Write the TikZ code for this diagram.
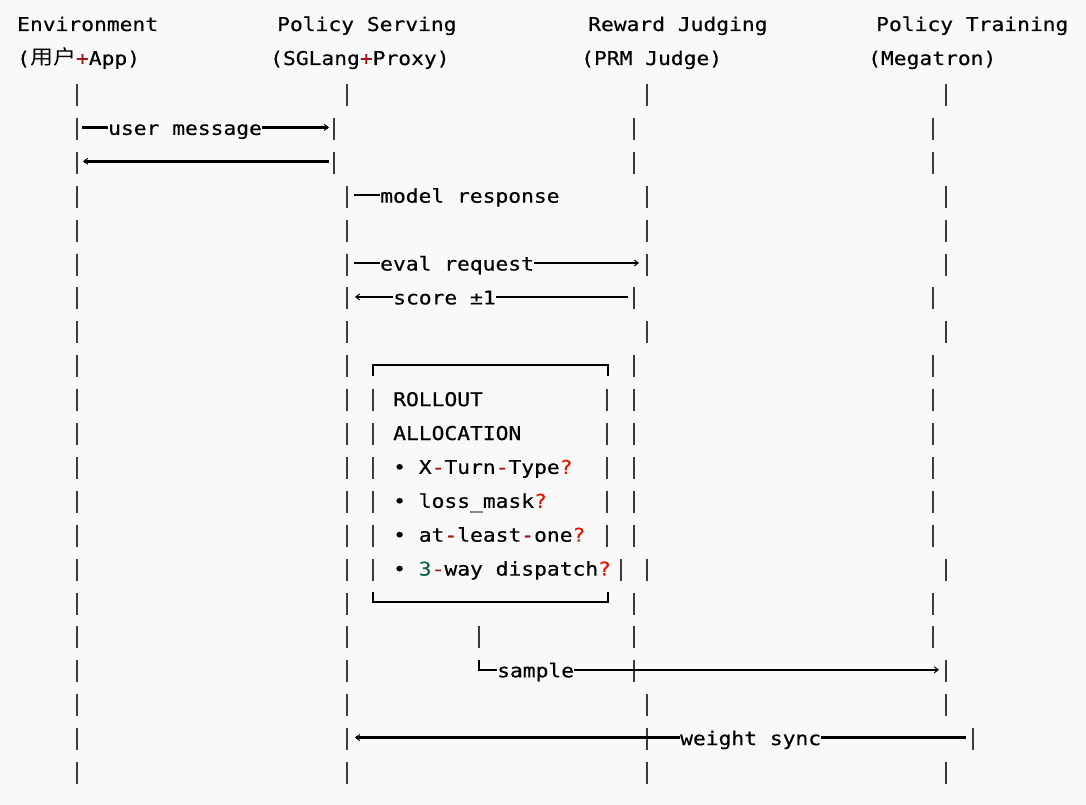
\documentclass[tikz,border=0pt]{standalone}
\usepackage{fontspec}
\usetikzlibrary{arrows.meta}
\newfontfamily\monofont[FakeStretch=1.12,FakeBold=0.4]{DejaVu Sans Mono}
\newfontfamily\cjkfont[FakeStretch=1.15]{Noto Sans CJK SC}
\definecolor{bgcol}{HTML}{F9F9F9}
\definecolor{barcol}{HTML}{3C3C3C}
\definecolor{opred}{HTML}{A31515}
\definecolor{qred}{HTML}{E51400}
\definecolor{numgreen}{HTML}{116644}
\newcommand{\rowy}[1]{95+33.9*#1}
\newcommand{\lifebar}[2]{ % Takes x position and row number as arguments
    \draw[lifeline] (#1,{\rowy{#2}-11}) -- (#1,{\rowy{#2}+11});
}
\newcommand{\op}[1]{\textcolor{opred}{#1}}
\newcommand{\qm}{\textcolor{qred}{?}}

\begin{document}
\begin{tikzpicture}[x=1pt, y=-1pt,
    txt/.style={font=\monofont\fontsize{19}{22}\selectfont, inner sep=0pt, anchor=base west},
    lifeline/.style={draw=barcol, line width=1.8pt},
    rule/.style={draw=black, line width=2.6pt},
    boxline/.style={draw=black, line width=2.2pt},
    >={Straight Barb[length=4pt,width=6pt,line width=1pt]}]
                \fill[bgcol] (0,0) rectangle (1086,805);
                \useasboundingbox (0,0) rectangle (1086,805);

                % Headers
                \node[txt] (envtitle) at (17,31) {Environment};
                \node[txt] (envsub) at (17,65) {({\cjkfont\fontsize{20}{22}\selectfont 用户}\op{+}App)};
                \node[txt] (servetitle) at (277,31) {Policy Serving};
                \node[txt] (servesub) at (270,65) {(SGLang\op{+}Proxy)};
                \node[txt] (judgetitle) at (588,31) {Reward Judging};
                \node[txt] (judgesub) at (581,65) {(PRM Judge)};
                \node[txt] (traintitle) at (876,31) {Policy Training};
                \node[txt] (trainsub) at (868,65) {(Megatron)};

                % Lifelines: row / serving x / judging x / training x
                \foreach \k/\xs/\xj/\xt in {0/347/647/946, 1/334/634/933, 2/334/634/933,
                    3/347/647/946, 4/347/647/946, 5/347/647/946, 6/347/634/933,
                    7/347/647/946, 8/347/634/933, 9/347/634/933, 10/347/634/933,
                    11/347/634/933, 12/347/634/933, 13/347/634/933, 14/347/647/946,
                    15/347/634/933, 16/347/634/933, 17/347/634/946, 18/347/647/946,
                    19/347/647/973, 20/347/647/946} {
                    \lifebar{77}{\k}
                    \lifebar{\xs}{\k}
                    \lifebar{\xj}{\k}
                    \lifebar{\xt}{\k}
                }

                % user message
                \node[txt] (usermsg) at (108,{\rowy{1}+6}) {user message};
                \coordinate (umL) at (82,{\rowy{1}-1.5});
                \coordinate (umR) at (329,{\rowy{1}-1.5});
                \draw[rule] (umL) -- (umL -| usermsg.west);
                \draw[rule, ->] (umR -| usermsg.east) -- (umR);

                % reply
                \coordinate (rpL) at (83,{\rowy{2}-1.5});
                \coordinate (rpR) at (329,{\rowy{2}-1.5});
                \draw[rule, <-] (rpL) -- (rpR);

                % model response
                \node[txt] (modelresp) at (380,{\rowy{3}+6}) {model response};
                \coordinate (mrL) at (354,{\rowy{3}-1.5});
                \draw[rule] (mrL) -- (mrL -| modelresp.west);

                % eval request
                \node[txt] (evalreq) at (380,{\rowy{5}+6}) {eval request};
                \coordinate (erL) at (354,{\rowy{5}-1.5});
                \coordinate (erR) at (639,{\rowy{5}-1.5});
                \draw[rule] (erL) -- (erL -| evalreq.west);
                \draw[rule, ->] (erR -| evalreq.east) -- (erR);

                % score
                \node[txt] (score) at (393,{\rowy{6}+6}) {score ±1};
                \coordinate (scL) at (355,{\rowy{6}-1.5});
                \coordinate (scR) at (628,{\rowy{6}-1.5});
                \draw[rule, <-] (scL) -- (scL -| score.west);
                \draw[rule] (scR -| score.east) -- (scR);

                % Rollout allocation box
                \draw[boxline] (373,376) -- (373,365) -- (608,365) -- (608,376);
                \draw[boxline] (373,592) -- (373,602) -- (608,602) -- (608,592);
                \foreach \k in {9,...,14} {\lifebar{373}{\k}}
                \foreach \k in {9,...,13} {\lifebar{607}{\k}}
                \lifebar{621}{14}
                \node[txt] (rollout) at (393,{\rowy{9}+6}) {ROLLOUT};
                \node[txt] (alloc) at (393,{\rowy{10}+6}) {ALLOCATION};
                \node[txt] (turntype) at (393,{\rowy{11}+6}) {• X\op{-}Turn\op{-}Type\qm};
                \node[txt] (lossmask) at (393,{\rowy{12}+6}) {• loss\_mask\qm};
                \node[txt] (atleast) at (393,{\rowy{13}+6}) {• at\op{-}least\op{-}one\qm};
                \node[txt] (dispatch) at (393,{\rowy{14}+6}) {• \textcolor{numgreen}{3}\op{-}way dispatch\qm};

                % sample
                \lifebar{479}{16}
                \node[txt] (sample) at (497,{\rowy{17}+6}) {sample};
                \coordinate (smC) at (479,{\rowy{17}-1.5});
                \coordinate (smR) at (939,{\rowy{17}-1.5});
                \draw[rule] (479,{\rowy{17}-11}) -- (smC) -- (smC -| sample.west);
                \draw[rule, ->] (smR -| sample.east) -- (smR);

                % weight sync
                \node[txt] (wsync) at (680,{\rowy{19}+6}) {weight sync};
                \coordinate (wsL) at (355,{\rowy{19}-1.5});
                \coordinate (wsR) at (966,{\rowy{19}-1.5});
                \draw[rule, <-] (wsL) -- (wsL -| wsync.west);
                \draw[rule] (wsR -| wsync.east) -- (wsR);
            \end{tikzpicture}
\end{document}
